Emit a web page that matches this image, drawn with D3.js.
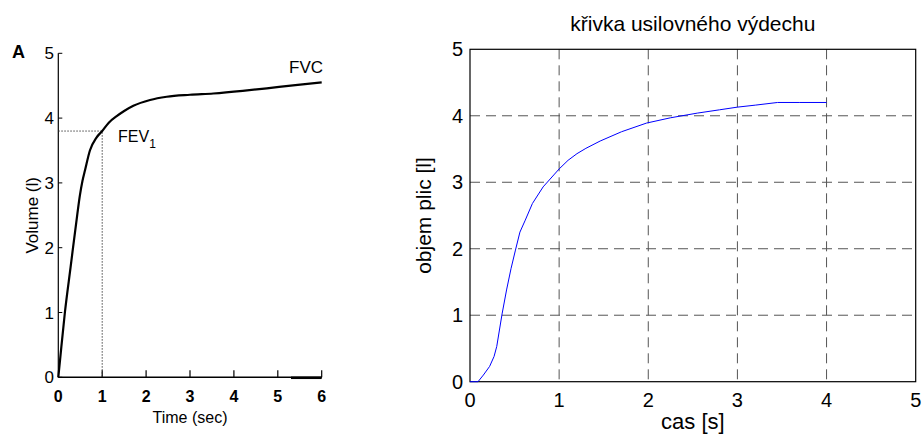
<!DOCTYPE html>
<html>
<head>
<meta charset="utf-8">
<script src="https://cdn.jsdelivr.net/npm/d3@7"></script>
<style>
  body { margin: 0; background: #fff; }
  .narrow { font-family: "Liberation Sans Narrow", "Arial Narrow", "Liberation Sans", sans-serif; }
  .mat { font-family: "Liberation Sans", Arial, sans-serif; }
</style>
</head>
<body>
<div id="chart"></div>
<script>

// left panel (textbook spirogram)
var leftTime = [0, 0.03, 0.15, 0.28, 0.43, 0.49, 0.55, 0.61, 0.72, 0.87, 1.0, 1.15, 1.33, 1.5, 1.71, 2.09, 2.47, 3.0, 3.53, 4.2, 4.75, 5.4, 6.0];
var leftVolume = [0, 0.2, 1.0, 1.7, 2.5, 2.8, 3.03, 3.2, 3.5, 3.7, 3.8, 3.93, 4.03, 4.11, 4.19, 4.28, 4.33, 4.36, 4.38, 4.42, 4.46, 4.51, 4.55];
var leftXTicks = [0, 1, 2, 3, 4, 5, 6];
var leftYTicks = [0, 1, 2, 3, 4, 5];
var fev1 = { t: 1, v: 3.8 };

// right panel (matlab plot)
var rightTime = [0, 0.09, 0.15, 0.22, 0.27, 0.30, 0.36, 0.41, 0.46, 0.51, 0.56, 0.62, 0.7, 0.82, 0.94, 1.0, 1.1, 1.2, 1.3, 1.46, 1.7, 1.98, 2.25, 2.55, 2.8, 3.0, 3.2, 3.45, 3.7, 4.0];
var rightVolume = [0, 0, 0.1, 0.23, 0.38, 0.53, 1.02, 1.38, 1.7, 1.98, 2.25, 2.43, 2.68, 2.93, 3.11, 3.2, 3.33, 3.43, 3.51, 3.62, 3.76, 3.89, 3.97, 4.04, 4.09, 4.13, 4.16, 4.2, 4.2, 4.2];
var rightXTicks = [0, 1, 2, 3, 4, 5];
var rightYTicks = [0, 1, 2, 3, 4, 5];

var svg = d3.select('#chart')
  .append('svg')
  .attr('width', 923)
  .attr('height', 439);

// ---------- left panel ----------
var lx = d3.scaleLinear().domain([0, 6]).range([58.3, 321.7]);
var ly = d3.scaleLinear().domain([0, 5]).range([377.3, 53.3]);

var left = svg.append('g').classed('narrow', true);

// axis lines
left.append('line')
  .attr('x1', lx(0)).attr('x2', lx(0))
  .attr('y1', ly(0)).attr('y2', ly(5))
  .attr('stroke', '#000').attr('stroke-width', 1.2);
left.append('line')
  .attr('x1', lx(0)).attr('x2', lx(6))
  .attr('y1', ly(0)).attr('y2', ly(0))
  .attr('stroke', '#000').attr('stroke-width', 1.5);
// heavier stretch of the baseline near the end (as in the scan)
left.append('line')
  .attr('x1', lx(5.3)).attr('x2', lx(6))
  .attr('y1', ly(0) + 0.5).attr('y2', ly(0) + 0.5)
  .attr('stroke', '#000').attr('stroke-width', 2.5);

// ticks
left.selectAll('.ytick')
  .data(leftYTicks)
  .enter()
  .append('line')
  .attr('x1', lx(0)).attr('x2', lx(0) + 4)
  .attr('y1', d => ly(d)).attr('y2', d => ly(d))
  .attr('stroke', '#000');
left.selectAll('.xtick')
  .data(leftXTicks.slice(1))
  .enter()
  .append('line')
  .attr('x1', d => lx(d)).attr('x2', d => lx(d))
  .attr('y1', ly(0)).attr('y2', ly(0) - 7)
  .attr('stroke', '#000').attr('stroke-width', 1.2);

// tick labels
left.selectAll('.ylab')
  .data(leftYTicks)
  .enter()
  .append('text')
  .attr('x', 54)
  .attr('y', d => ly(d) + 6)
  .attr('text-anchor', 'end')
  .style('font-size', '17px')
  .text(d => d);
left.selectAll('.xlab')
  .data(leftXTicks)
  .enter()
  .append('text')
  .attr('x', d => lx(d))
  .attr('y', 402)
  .attr('text-anchor', 'middle')
  .style('font-size', '16px')
  .style('font-weight', 'bold')
  .text(d => d);

// dotted FEV1 guides
left.append('path')
  .attr('d', `M${lx(0)},${ly(fev1.v)}H${lx(fev1.t)}V${ly(0)}`)
  .attr('fill', 'none')
  .attr('stroke', '#333')
  .attr('stroke-width', 0.9)
  .attr('stroke-dasharray', '1.5,1.5');

// curve
var leftLine = d3.line()
  .x((d, i) => lx(leftTime[i]))
  .y(d => ly(d))
  .curve(d3.curveMonotoneX);
left.append('path')
  .datum(leftVolume)
  .attr('d', leftLine)
  .attr('fill', 'none')
  .attr('stroke', '#000')
  .attr('stroke-width', 2.2);

// labels
left.append('text')
  .attr('x', 12).attr('y', 58)
  .style('font-size', '18px').style('font-weight', 'bold')
  .text('A');
left.append('text')
  .attr('x', 323).attr('y', 73)
  .attr('text-anchor', 'end')
  .style('font-size', '17px')
  .text('FVC');
var fevText = left.append('text')
  .attr('x', 118).attr('y', 142)
  .style('font-size', '16px');
fevText.append('tspan').text('FEV');
fevText.append('tspan').attr('dy', 6).style('font-size', '12px').text('1');
left.append('text')
  .attr('x', lx(3)).attr('y', 423)
  .attr('text-anchor', 'middle')
  .style('font-size', '16px')
  .text('Time (sec)');
left.append('text')
  .attr('transform', `translate(38, ${(ly(0) + ly(5)) / 2}) rotate(-90)`)
  .attr('text-anchor', 'middle')
  .style('font-size', '17px')
  .text('Volume (l)');

// ---------- right panel ----------
var rx = d3.scaleLinear().domain([0, 5]).range([470, 915.7]);
var ry = d3.scaleLinear().domain([0, 5]).range([381.7, 49.3]);

var right = svg.append('g').classed('mat', true);

// dashed grid
right.selectAll('.vgrid')
  .data(rightXTicks.slice(1, -1))
  .enter()
  .append('line')
  .attr('x1', d => rx(d)).attr('x2', d => rx(d))
  .attr('y1', ry(5)).attr('y2', ry(0))
  .attr('stroke', '#555')
  .attr('stroke-dasharray', '10,6');
right.selectAll('.hgrid')
  .data(rightYTicks.slice(1, -1))
  .enter()
  .append('line')
  .attr('x1', rx(0)).attr('x2', rx(5))
  .attr('y1', d => ry(d)).attr('y2', d => ry(d))
  .attr('stroke', '#555')
  .attr('stroke-dasharray', '10,6');

// box
right.append('rect')
  .attr('x', rx(0)).attr('y', ry(5))
  .attr('width', rx(5) - rx(0))
  .attr('height', ry(0) - ry(5))
  .attr('fill', 'none')
  .attr('stroke', '#000')
  .attr('stroke-width', 1.2);

// curve
var rightLine = d3.line()
  .x((d, i) => rx(rightTime[i]))
  .y(d => ry(d));
right.append('path')
  .datum(rightVolume)
  .attr('d', rightLine)
  .attr('fill', 'none')
  .attr('stroke', '#0000ff')
  .attr('stroke-width', 1);

// tick labels
right.selectAll('.rxlab')
  .data(rightXTicks)
  .enter()
  .append('text')
  .attr('x', d => rx(d))
  .attr('y', 407)
  .attr('text-anchor', 'middle')
  .style('font-size', '20px')
  .text(d => d);
right.selectAll('.rylab')
  .data(rightYTicks)
  .enter()
  .append('text')
  .attr('x', 463)
  .attr('y', d => ry(d) + 7)
  .attr('text-anchor', 'end')
  .style('font-size', '20px')
  .text(d => d);

// titles
right.append('text')
  .attr('x', (rx(0) + rx(5)) / 2).attr('y', 31)
  .attr('text-anchor', 'middle')
  .style('font-size', '21px')
  .text('křivka usilovného výdechu');
right.append('text')
  .attr('x', (rx(0) + rx(5)) / 2).attr('y', 429)
  .attr('text-anchor', 'middle')
  .style('font-size', '22px')
  .text('cas [s]');
right.append('text')
  .attr('transform', `translate(431, ${(ry(0) + ry(5)) / 2}) rotate(-90)`)
  .attr('text-anchor', 'middle')
  .style('font-size', '21px')
  .text('objem plic [l]');

</script>
</body>
</html>
